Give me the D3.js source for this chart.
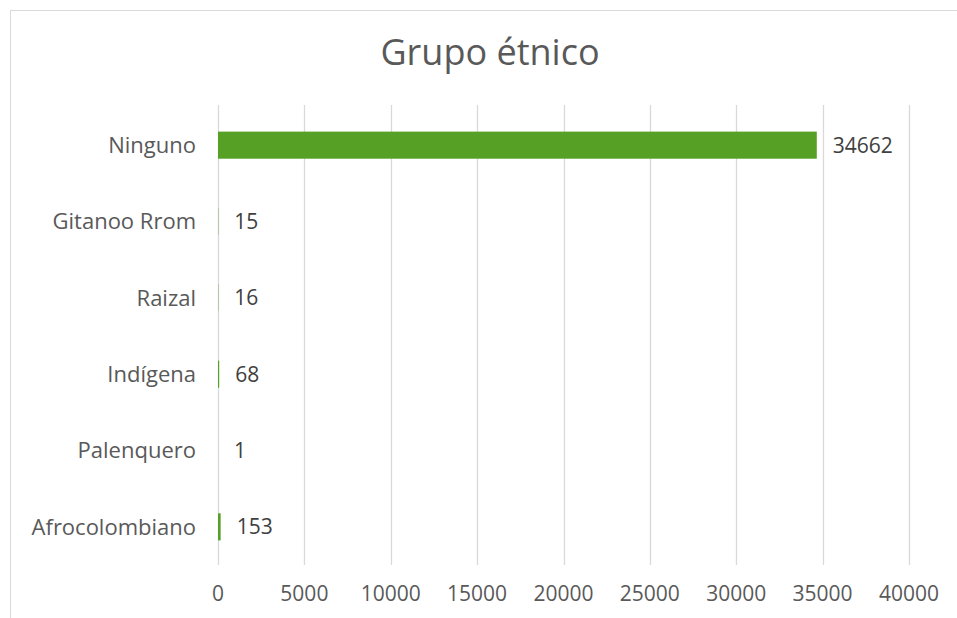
<!DOCTYPE html>
<html>
<head>
<meta charset="utf-8">
<script src="https://cdn.jsdelivr.net/npm/d3@7"></script>
<style>
  body { margin: 0; background: #fff; }
  svg { display: block; }
</style>
</head>
<body>
<div id="chart"></div>
<script>
// data
const categories = ["Ninguno", "Gitanoo Rrom", "Raizal", "Indígena", "Palenquero", "Afrocolombiano"];
const values = [34662, 15, 16, 68, 1, 153];
const ticks = [0, 5000, 10000, 15000, 20000, 25000, 30000, 35000, 40000];

const width = 957, height = 618;
const margin = { top: 107, right: 48, bottom: 53, left: 218 };
const font = "'Open Sans', sans-serif";

const svg = d3.select("#chart")
  .append("svg")
  .attr("width", width)
  .attr("height", height);

// chart frame, runs off the right and bottom edge
svg.append("rect")
  .attr("x", 10.5)
  .attr("y", 10.5)
  .attr("width", width + 20)
  .attr("height", height + 20)
  .attr("fill", "#fff")
  .attr("stroke", "#d9d9d9");

let x = d3.scaleLinear()
  .domain([0, 40000])
  .range([margin.left, width - margin.right]);

let y = d3.scaleBand()
  .domain(categories)
  .range([margin.top, height - margin.bottom])
  .paddingInner(0.645)
  .paddingOuter(0.3225);

// gridlines
svg.append("g")
  .attr("stroke", "#d9d9d9")
  .attr("stroke-width", 1.3)
  .selectAll("line")
  .data(ticks)
  .join("line")
  .attr("x1", d => Math.round(x(d)) + 0.5)
  .attr("x2", d => Math.round(x(d)) + 0.5)
  .attr("y1", margin.top - 2)
  .attr("y2", height - margin.bottom);

// x tick labels
svg.append("g")
  .attr("font-family", font)
  .attr("font-size", 21)
  .attr("fill", "#595959")
  .attr("text-anchor", "middle")
  .selectAll("text")
  .data(ticks)
  .join("text")
  .attr("x", d => x(d))
  .attr("y", 601)
  .text(d => d);

// bars
svg.append("g")
  .selectAll("rect")
  .data(values)
  .join("rect")
  .attr("x", x(0))
  .attr("y", (d, i) => y(categories[i]))
  .attr("width", d => x(d) - x(0))
  .attr("height", y.bandwidth())
  .attr("fill", "#55a025");

// category labels
svg.append("g")
  .attr("font-family", font)
  .attr("font-size", 22)
  .attr("fill", "#595959")
  .attr("text-anchor", "end")
  .selectAll("text")
  .data(categories)
  .join("text")
  .attr("x", margin.left - 22)
  .attr("y", d => y(d) + y.bandwidth() / 2)
  .attr("dy", "0.35em")
  .text(d => d);

// value labels
svg.append("g")
  .attr("font-family", font)
  .attr("font-size", 21)
  .attr("fill", "#404040")
  .selectAll("text")
  .data(values)
  .join("text")
  .attr("x", d => x(d) + 16)
  .attr("y", (d, i) => y(categories[i]) + y.bandwidth() / 2)
  .attr("dy", "0.35em")
  .text(d => d);

// title
svg.append("text")
  .attr("x", 490)
  .attr("y", 65)
  .attr("text-anchor", "middle")
  .attr("font-family", font)
  .attr("font-size", 36)
  .attr("fill", "#595959")
  .text("Grupo étnico");
</script>
</body>
</html>
